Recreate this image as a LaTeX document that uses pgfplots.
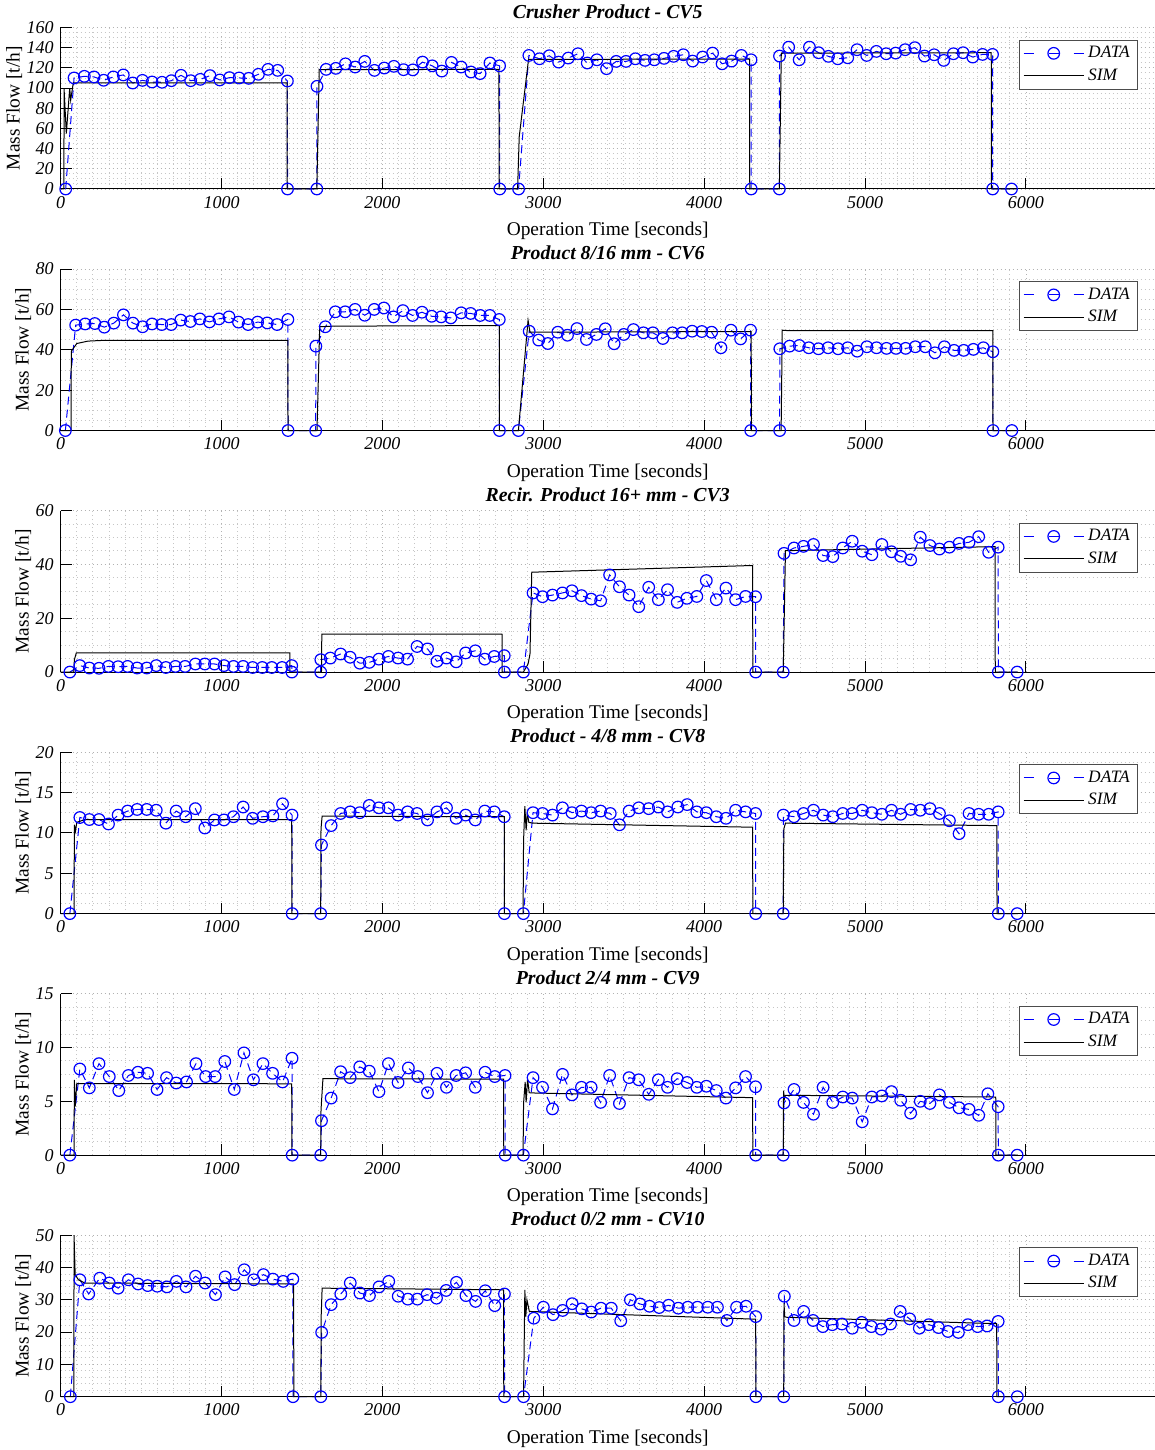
\documentclass[border=0pt]{standalone}
\usepackage{fontspec}
\setmainfont{Liberation Serif}
\usepackage{pgfplots}
\pgfplotsset{compat=1.18}

\pgfplotsset{
  panel/.style={
    scale only axis, width=547pt, height=80.75pt,
    xmin=0, xmax=6800, ymin=0,
    axis x line*=bottom, axis y line*=left,
    xtick={0,1000,...,6000},
    minor x tick num=9, minor y tick num=3,
    tick align=inside, major tick length=5.5pt, minor tick length=0pt,
    grid=both,
    major grid style={gray!60, line width=0.45pt, dash pattern=on 0.5pt off 1.5pt},
    minor grid style={gray!45, line width=0.45pt, dash pattern=on 0.5pt off 1.5pt},
    axis line style={black, line width=0.5pt},
    tick style={black, line width=0.5pt},
    ticklabel style={font=\fontsize{9}{10}\selectfont\itshape},
    /pgf/number format/assume math mode=true,
    /pgf/number format/1000 sep={},
    scaled ticks=false,
    clip=false,
    xlabel={Operation Time [seconds]},
    ylabel={Mass Flow [t/h]},
    label style={font=\fontsize{9.7}{11}\selectfont},
    xlabel style={at={(axis description cs:0.5,-0.26)}, anchor=center},
    ylabel style={at={(axis description cs:-0.0342,0.5)}, anchor=center},
    title style={font=\fontsize{9.9}{11}\selectfont\bfseries\itshape,
      at={(axis description cs:0.5,1.025)}, anchor=center},
    legend style={at={(axis description cs:0.985,0.925)}, anchor=north east,
      draw=black!70, line width=0.5pt, fill=white,
      font=\fontsize{8.7}{9.5}\selectfont\itshape,
      inner xsep=2pt, inner ysep=1pt, row sep=0pt},
    legend cell align=left,
  },
  data/.style={blue, line width=0.5pt, dash pattern=on 4pt off 2.5pt,
    mark=o, mark size=2.9pt, mark options={solid, line width=0.6pt},
    legend image code/.code={
      \draw[blue, solid, line width=0.5pt] (0pt,0pt) -- (5pt,0pt);
      \draw[blue, solid, line width=0.4pt] (12.5pt,0pt) -- (17.5pt,0pt);
      \draw[blue, solid, line width=0.5pt] (25pt,0pt) -- (30pt,0pt);
      \draw[blue, solid, line width=0.6pt] (15pt,0pt) circle (2.9pt);}},
  sim/.style={black, line width=0.5pt, no markers,
    legend image code/.code={\draw[black, solid, line width=0.5pt] (0pt,0pt) -- (30pt,0pt);}},
}

\begin{document}
\begin{tikzpicture}
\useasboundingbox (0,0) rectangle (577.5pt,725pt);

% ---- CV5
\begin{axis}[panel, at={(30.35pt,630.5pt)}, anchor=south west,
  ymax=160, ytick={0,20,...,160},
  ylabel style={at={(axis description cs:-0.0426,0.5)}},
  title={Crusher Product - CV5}]
\addplot[data] coordinates {
(31,0) (83,110) (147,111.6) (207,111) (267,107.7) (327,111) (389,113) (448,105)
(508,107.6) (568,106) (630,105.7) (688,107.3) (748,112.6) (808,107.3) (868,108.6)
(928,112.3) (989,108) (1049,110.3) (1109,110) (1169,109.6) (1229,113.6) (1289,118.5)
(1349,117.5) (1409,107) (1410,0) (1592,0) (1593,101.7) (1650,118.5) (1710,119.5)
(1770,124) (1830,120.8) (1890,126.4) (1950,117.5) (2011,119.8) (2071,121.5) (2131,118.2)
(2189,118) (2249,125.7) (2309,122) (2369,116.8) (2429,125.4) (2489,120.8) (2550,115.9)
(2607,114.3) (2668,124.8) (2728,122) (2729,0) (2846,0) (2910,132.3) (2976,129)
(3037,132) (3095,125.7) (3155,129.7) (3215,134) (3273,124.8) (3333,128) (3393,119.2)
(3453,126.4) (3514,126.4) (3572,129) (3632,127.4) (3690,128) (3750,129.4) (3810,131.4)
(3870,133) (3928,126.7) (3990,130.7) (4052,134.6) (4111,124) (4170,126.7) (4231,132.3)
(4291,128) (4292,0) (4467,0) (4468,131.7) (4525,140.5) (4590,128) (4654,140.5)
(4711,135) (4772,131.4) (4830,129) (4892,130) (4950,138) (5010,132.3) (5070,136.3)
(5131,134) (5190,134.6) (5249,138) (5309,140) (5369,131.7) (5429,133) (5489,127.4)
(5549,134) (5609,135) (5669,130.7) (5730,133.3) (5792,133.3) (5793,0) (5910,0)
};
\addplot[sim] coordinates {
(0,0) (20,0) (21,99) (35,55) (56,100) (62,88) (78,105) (1407,105) (1408,0) (1592,0)
(1607,118.2) (2724,118.5) (2725,0) (2840,0) (2850,51.7) (2908,128.4) (4282,128.7)
(4283,0) (4467,0) (4479,134.6) (5784,135) (5785,0) (5950,0)
};
\legend{DATA,SIM}
\end{axis}

% ---- CV6
\begin{axis}[panel, at={(30.35pt,509.73pt)}, anchor=south west,
  ymax=80, ytick={0,20,...,80},
  title={Product 8/16 mm - CV6}]
\addplot[data] coordinates {
(29,0) (93,52.2) (152,52.8) (212,53) (271,51.2) (330,53.2) (390,57.3) (449,53.2)
(509,51.4) (568,52.8) (628,52.5) (687,52.5) (746,54.7) (806,54) (865,55.3) (925,53.8)
(984,55.3) (1046,56.3) (1105,53.7) (1165,52.5) (1224,53.7) (1284,53.3) (1345,52.5)
(1412,55) (1413,0) (1585,0) (1586,41.8) (1645,51.4) (1707,58.8) (1768,58.8) (1830,60)
(1890,57.1) (1949,60) (2009,60.7) (2068,56.3) (2127,59.4) (2187,57) (2246,58.6)
(2306,56.6) (2365,56.3) (2425,55.8) (2489,58.3) (2548,58) (2608,57) (2667,57)
(2726,55) (2727,0) (2845,0) (2912,49.2) (2971,44.8) (3028,43.1) (3090,48.7)
(3150,47.2) (3209,50.5) (3268,45.1) (3330,47.6) (3385,50.4) (3440,43) (3500,47.6)
(3560,50) (3622,48.4) (3681,48.4) (3743,45.6) (3803,48.4) (3863,48.4) (3925,49.2)
(3985,49.05) (4046,48.7) (4104,41) (4166,49.7) (4226,45.4) (4288,49.7) (4289,0)
(4469,0) (4470,40.5) (4531,41.8) (4591,42.1) (4650,41) (4710,40.5) (4770,41)
(4832,40.5) (4892,41) (4951,39.3) (5011,41.5) (5071,41) (5133,40.7) (5192,40.7)
(5252,40.7) (5312,41.5) (5374,41.5) (5434,38.5) (5493,41.5) (5553,39.7) (5613,39.7)
(5673,40.2) (5735,41) (5794,39) (5795,0) (5912,0)
};
\addplot[sim] coordinates {
(0,0) (64,0) (66,39.3) (100,43.1) (170,44.3) (250,44.6) (1412,44.6) (1413,0) (1593,0)
(1610,51.4) (1700,51.7) (2726,52) (2727,0) (2845,0) (2905,54.6) (2917,48.7)
(4292,49.05) (4293,0) (4478,0) (4485,49.7) (4520,49.5) (5794,49.5) (5795,0) (5950,0)
};
\legend{DATA,SIM}
\end{axis}

% ---- CV3
\begin{axis}[panel, at={(30.35pt,388.96pt)}, anchor=south west,
  ymax=60, ytick={0,20,...,60},
  title={Recir. Product 16+ mm - CV3}]
\addplot[data] coordinates {
(57,0) (119,2.4) (178,1.5) (238,1.4) (297,2.1) (357,2) (416,2.1) (475,1.5) (535,1.5)
(594,2.4) (654,1.7) (713,2.1) (773,2.1) (837,3) (896,3) (956,3) (1015,2.4) (1074,2.1)
(1134,2.1) (1193,1.7) (1253,1.7) (1312,1.7) (1376,1.7) (1436,2.4) (1437,0) (1616,0)
(1617,4.6) (1676,5.2) (1740,6.7) (1799,5.5) (1859,3.3) (1918,3.6) (1978,4.8)
(2037,5.8) (2097,5.2) (2156,4.8) (2215,9.5) (2280,8.6) (2339,4) (2398,5.2) (2458,3.8)
(2517,7.1) (2577,7.9) (2636,4.8) (2695,5.8) (2757,6.1) (2758,0) (2876,0) (2936,29.4)
(2995,28) (3057,28.6) (3119,29.4) (3178,30.2) (3237,28.4) (3297,27.1) (3356,26.5)
(3412,36.1) (3473,31.7) (3533,28.6) (3593,24.3) (3655,31.5) (3715,26.9) (3772,30.6)
(3832,25.9) (3892,27.4) (3954,28.1) (4013,34) (4075,26.9) (4135,31.2) (4195,26.9)
(4257,28.1) (4319,28) (4320,0) (4491,0) (4496,44.1) (4558,46.1) (4617,46.7)
(4679,47.4) (4739,43.3) (4799,42.9) (4861,46.1) (4920,48.6) (4982,44.9) (5042,43.6)
(5104,47.4) (5164,44.7) (5221,43) (5283,41.7) (5343,50.1) (5403,47) (5462,45.7)
(5524,46.4) (5584,47.8) (5646,48.2) (5706,50.3) (5768,44.5) (5827,46.4) (5828,0)
(5945,0)
};
\addplot[sim] coordinates {
(0,0) (81,0) (85,4.6) (97,7.1) (1424,7.1) (1425,0) (1621,0) (1623,14.1) (2743,14.1)
(2744,0) (2876,0) (2905,3) (2917,6.7) (2928,37.1) (4301,39.6) (4302,0) (4491,0)
(4505,45.1) (5808,46.6) (5809,0) (5950,0)
};
\legend{DATA,SIM}
\end{axis}

% ---- CV8
\begin{axis}[panel, at={(30.35pt,268.19pt)}, anchor=south west,
  ymax=20, ytick={0,5,...,20},
  title={Product - 4/8 mm - CV8}]
\addplot[data] coordinates {
(57,0) (119,11.9) (178,11.65) (238,11.65) (297,11.1) (357,12.2) (416,12.7) (475,12.9)
(535,12.9) (594,12.8) (654,11.2) (718,12.7) (777,12) (837,13) (896,10.6) (956,11.6)
(1015,11.6) (1074,12) (1134,13.2) (1193,11.8) (1257,12) (1319,12.1) (1379,13.6)
(1438,12.2) (1439,0) (1616,0) (1621,8.5) (1681,10.9) (1740,12.4) (1799,12.6)
(1859,12.5) (1918,13.4) (1978,13.1) (2037,13.1) (2097,12.2) (2156,12.6) (2215,12.4)
(2280,11.6) (2339,12.6) (2398,13.1) (2458,11.8) (2517,12.2) (2577,11.6) (2636,12.7)
(2695,12.6) (2757,12) (2758,0) (2876,0) (2936,12.5) (2995,12.4) (3057,12.2)
(3119,13.1) (3178,12.5) (3237,12.7) (3297,12.5) (3356,12.7) (3416,12.4) (3473,11)
(3533,12.7) (3593,13.1) (3655,13) (3715,13.2) (3772,12.6) (3836,13.2) (3894,13.5)
(3954,12.6) (4013,12.5) (4075,12) (4135,11.8) (4195,12.8) (4257,12.6) (4319,12.4)
(4320,0) (4491,0) (4492,12.2) (4558,12) (4617,12.4) (4679,12.8) (4739,12.2) (4799,12)
(4861,12.4) (4920,12.4) (4982,12.8) (5042,12.5) (5104,12.3) (5164,12.8) (5221,12.3)
(5283,12.9) (5343,12.8) (5403,13) (5462,12.4) (5524,11.5) (5584,9.9) (5646,12.4)
(5706,12.3) (5768,12.3) (5827,12.6) (5828,0) (5945,0)
};
\addplot[sim] coordinates {
(0,0) (83,0) (85,11.0) (92,10.2) (100,11.3) (150,11.65) (1436,11.65) (1437,0)
(1616,0) (1618,10.5) (1625,12.07) (2757,12.0) (2758,0) (2874,0) (2877,9) (2885,13.3)
(2893,10.3) (2900,12.5) (2910,11.3) (2935,11.2) (4301,10.7) (4302,0) (4491,0)
(4495,10.5) (4505,11.2) (5819,10.9) (5820,0) (5950,0)
};
\legend{DATA,SIM}
\end{axis}

% ---- CV9
\begin{axis}[panel, at={(30.35pt,147.42pt)}, anchor=south west,
  ymax=15, ytick={0,5,...,15},
  title={Product 2/4 mm - CV9}]
\addplot[data] coordinates {
(57,0) (119,8) (178,6.25) (238,8.5) (302,7.3) (361,6.0) (421,7.4) (480,7.7) (540,7.6)
(599,6.1) (658,7.2) (718,6.7) (782,6.8) (841,8.5) (901,7.3) (960,7.3) (1020,8.7)
(1079,6.1) (1139,9.5) (1198,7.0) (1257,8.5) (1317,7.6) (1379,6.8) (1438,9) (1439,0)
(1616,0) (1621,3.2) (1681,5.3) (1740,7.75) (1799,7.2) (1859,8.2) (1918,7.8) (1978,5.9)
(2037,8.5) (2097,6.75) (2161,8.1) (2220,7.3) (2280,5.8) (2339,7.6) (2398,6.3)
(2458,7.4) (2517,7.65) (2577,6.3) (2638,7.7) (2698,7.3) (2762,7.4) (2763,0) (2876,0)
(2936,7.2) (2995,6.3) (3057,4.3) (3119,7.5) (3178,5.6) (3237,6.3) (3297,6.3)
(3356,4.9) (3412,7.4) (3473,4.8) (3533,7.2) (3593,7.0) (3655,5.65) (3715,7.0)
(3772,6.3) (3832,7.1) (3894,6.75) (3954,6.3) (4013,6.4) (4075,6.0) (4135,5.3)
(4195,6.25) (4257,7.3) (4319,6.35) (4320,0) (4491,0) (4496,4.85) (4558,6.1) (4617,4.9)
(4679,3.8) (4739,6.3) (4799,4.9) (4861,5.4) (4920,5.3) (4982,3.1) (5042,5.4)
(5104,5.5) (5164,5.9) (5221,5.1) (5283,3.9) (5343,5.0) (5403,4.8) (5462,5.6)
(5524,4.9) (5584,4.4) (5646,4.25) (5706,3.7) (5763,5.7) (5827,4.5) (5828,0) (5945,0)
};
\addplot[sim] coordinates {
(0,0) (83,0) (85,7.0) (90,4.5) (100,6.65) (1436,6.63) (1437,0) (1616,0) (1618,4.2)
(1630,7.1) (2753,7.06) (2754,0) (2874,0) (2877,4.8) (2887,6.8) (2893,4.9) (2902,7.1)
(2912,5.8) (2925,5.78) (4301,5.34) (4302,0) (4491,0) (4493,6.0) (4498,5.2)
(4505,5.56) (5812,5.4) (5813,0) (5950,0)
};
\legend{DATA,SIM}
\end{axis}

% ---- CV10
\begin{axis}[panel, at={(30.35pt,26.65pt)}, anchor=south west,
  ymax=50, ytick={0,10,...,50}, minor y tick num=4,
  title={Product 0/2 mm - CV10}]
\addplot[data] coordinates {
(60,0) (119,36.2) (174,31.8) (243,36.7) (302,35.2) (357,33.6) (421,36.2) (481,34.9)
(541,34.4) (600,34.2) (660,34) (719,35.7) (779,34) (838,37.3) (898,35.2) (962,31.6)
(1022,37.1) (1081,34.7) (1141,39.3) (1200,36.2) (1260,37.8) (1319,36.4) (1383,35.7)
(1443,36.4) (1444,0) (1617,0) (1622,19.9) (1681,28.5) (1741,31.8) (1800,35.2)
(1860,32.1) (1919,31.3) (1979,34) (2039,35.7) (2098,31.1) (2158,30.2) (2217,30.2)
(2277,31.6) (2336,30.5) (2396,32.9) (2460,35.4) (2519,31.3) (2579,29.5) (2639,32.8)
(2698,28.2) (2758,31.8) (2759,0) (2877,0) (2941,24.3) (3000,27.7) (3060,25.4)
(3120,26.7) (3179,28.8) (3239,27.2) (3298,26.2) (3358,27.4) (3422,27.4) (3481,23.5)
(3541,30) (3601,28.7) (3660,28) (3720,27.6) (3779,28.3) (3839,27.4) (3898,27.7)
(3958,27.7) (4022,27.7) (4082,27.7) (4141,23.6) (4201,27.7) (4260,28) (4320,24.8)
(4321,0) (4494,0) (4498,31.1) (4558,23.6) (4618,26.4) (4677,23.6) (4737,21.7)
(4796,22.3) (4856,22.5) (4920,21.2) (4979,23) (5039,21.7) (5099,20.9) (5158,22.5)
(5218,26.4) (5277,24.1) (5337,21.2) (5396,22.3) (5456,21.4) (5515,20.2) (5580,19.9)
(5639,22.3) (5699,21.7) (5758,21.9) (5827,23.3) (5828,0) (5946,0)
};
\addplot[sim] coordinates {
(0,0) (82,0) (83,50) (90,37.8) (110,36.2) (150,35.2) (1448,34.9) (1449,0) (1617,0)
(1619,24.8) (1625,33.6) (2753,33.1) (2754,0) (2877,0) (2885,33.1) (2891,24.8)
(2898,30) (2913,26.4) (4320,24.0) (4321,0) (4494,0) (4496,29) (4500,24.8) (4510,24.6)
(5818,22.6) (5819,0) (5950,0)
};
\legend{DATA,SIM}
\end{axis}
\end{tikzpicture}
\end{document}
